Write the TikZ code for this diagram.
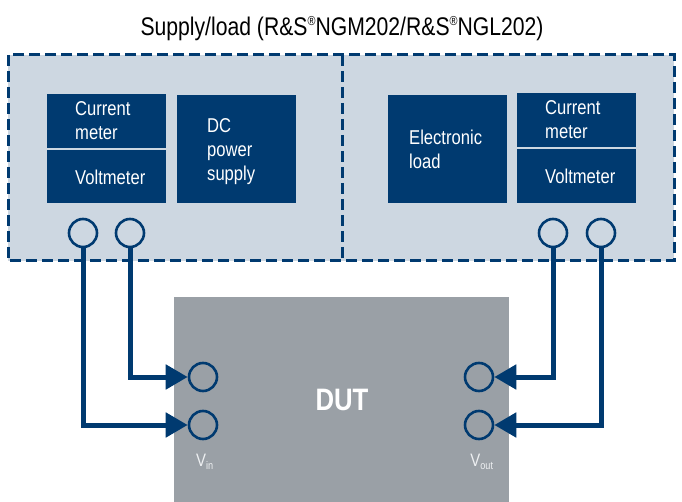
\documentclass[tikz,border=0pt]{standalone}
\usepackage{fontspec}
\setmainfont[FakeStretch=0.83]{Liberation Sans}
\usetikzlibrary{arrows.meta}
\definecolor{navy}{HTML}{003A70}
\definecolor{panel}{HTML}{CDD7E1}
\definecolor{dutgrey}{HTML}{9AA0A6}
\definecolor{lbl}{HTML}{EEF0F2}
\newcommand{\regmark}{\raisebox{0.42em}{\fontsize{13}{13}\selectfont ®}}
\tikzset{
  blocktext/.style={text=white, align=left, anchor=west, inner sep=0pt,
     font=\fontsize{20}{24}\selectfont},
  port/.style={circle, draw=navy, line width=2.6pt, minimum size=28pt, inner sep=0pt},
  wire/.style={draw=navy, line width=5pt, -{Triangle[length=22pt,width=24pt]}},
  frame/.style={draw=navy, line width=3pt, dash pattern=on 11pt off 5pt},
}
\begin{document}
\begin{tikzpicture}[x=1pt,y=-1pt]
\useasboundingbox (0,0) rectangle (682,502);
% title
\node[font=\fontsize{25.5}{28}\selectfont, anchor=base, inner sep=0pt] (title) at (342,36)
  {Supply/load (R\&S\regmark NGM202/R\&S\regmark NGL202)};
% panels
\fill[panel] (8,55) rectangle (674,261);
\draw[frame] (8,55) rectangle (674,261);
\draw[frame] (342,55) -- (342,261);
% DUT
\node[fill=dutgrey, minimum width=335pt, minimum height=210pt, anchor=north west, inner sep=0pt] (dut) at (174,297) {};
\node[font=\fontsize{31}{34}\selectfont\bfseries, text=white] (dutlbl) at (342,400) {DUT};
% left blocks
\fill[navy] (47,94) rectangle (166,148);
\fill[navy] (47,150) rectangle (166,203);
\fill[navy] (177,95) rectangle (296,203);
\node[blocktext] (cm1) at (75,123) {\begin{tabular}{@{}l@{}}Current\\meter\end{tabular}};
\node[blocktext] (vm1) at (75,177) {Voltmeter};
\node[blocktext] (dc) at (207,152) {\begin{tabular}{@{}l@{}}DC\\power\\supply\end{tabular}};
% right blocks
\fill[navy] (388,95) rectangle (507,203);
\fill[navy] (517,93) rectangle (636,147);
\fill[navy] (517,149) rectangle (636,203);
\node[blocktext] (el) at (409,152) {\begin{tabular}{@{}l@{}}Electronic\\load\end{tabular}};
\node[blocktext] (cm2) at (545,122) {\begin{tabular}{@{}l@{}}Current\\meter\end{tabular}};
\node[blocktext] (vm2) at (545,176) {Voltmeter};
% ports on instruments
\node[port] (a1) at (83,233) {};
\node[port] (a2) at (130,233) {};
\node[port] (b1) at (553,233) {};
\node[port] (b2) at (601,233) {};
% ports on DUT
\node[port] (i1) at (203,377) {};
\node[port] (i2) at (203,425) {};
\node[port] (o1) at (479,377) {};
\node[port] (o2) at (479,425) {};
\node[text=lbl, font=\fontsize{18}{20}\selectfont, anchor=center] (vin) at (205,462) {V\textsubscript{\fontsize{11}{12}\selectfont in}};
\node[text=lbl, font=\fontsize{18}{20}\selectfont, anchor=center] (vout) at (482,462) {V\textsubscript{\fontsize{11}{12}\selectfont out}};
% wires
\draw[wire] (a1.south) |- (i2.west);
\draw[wire] (a2.south) |- (i1.west);
\draw[wire] (b1.south) |- (o1.east);
\draw[wire] (b2.south) |- (o2.east);
\end{tikzpicture}
\end{document}
